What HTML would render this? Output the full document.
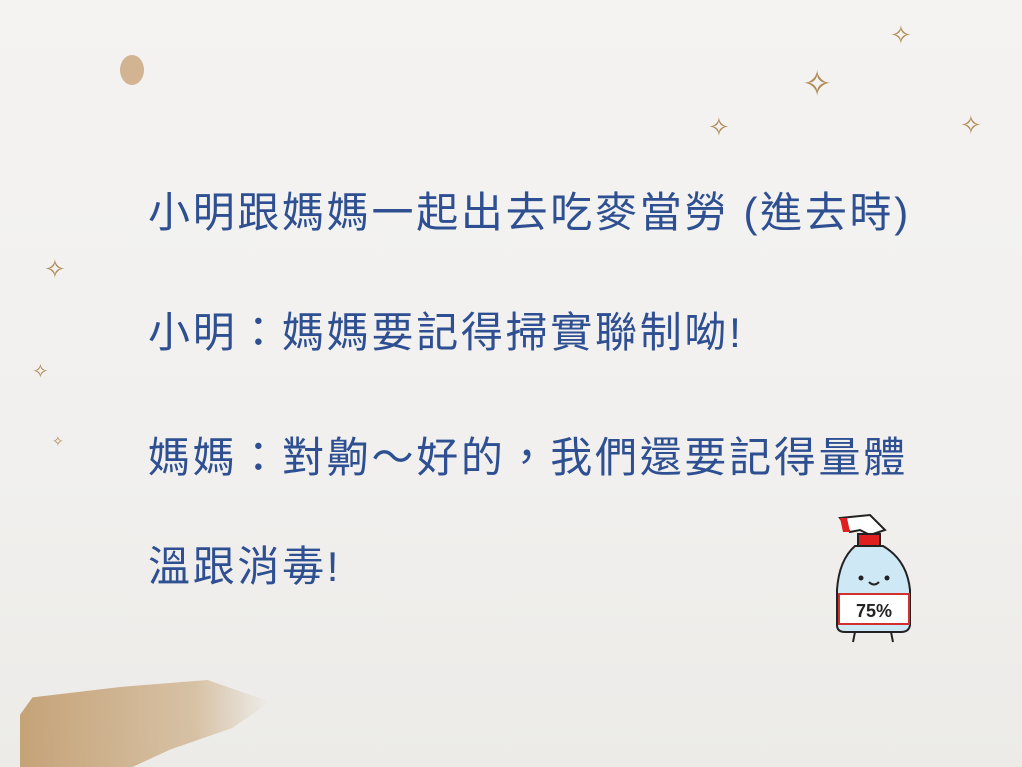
<!DOCTYPE html>
<html><head><meta charset="utf-8"><style>
html,body{margin:0;padding:0}
body{width:1022px;height:767px;position:relative;overflow:hidden;background:linear-gradient(180deg,#f4f3f1 0%,#f1f0ee 60%,#ecebe8 100%);font-family:"Liberation Sans","Noto Sans CJK TC",sans-serif}
.line{position:absolute;left:148px;color:#2e4f91;font-size:42px;letter-spacing:2.7px;white-space:nowrap;line-height:50px}
.star{position:absolute;color:#b08a55;font-size:26px;line-height:1}
</style></head><body>
<div class="line" style="top:188px">小明跟媽媽一起出去吃麥當勞 (進去時)</div>
<div class="line" style="top:308px">小明：媽媽要記得掃實聯制呦!</div>
<div class="line" style="top:433px">媽媽：對齁～好的，我們還要記得量體</div>
<div class="line" style="top:542px">溫跟消毒!</div>

<div style="position:absolute;left:120px;top:55px;width:24px;height:30px;border-radius:50%;background:#c9a27a;opacity:.8"></div>
<div class="star" style="left:802px;top:66px;font-size:36px">✧</div>
<div class="star" style="left:890px;top:22px">✧</div>
<div class="star" style="left:708px;top:114px">✧</div>
<div class="star" style="left:960px;top:112px">✧</div>
<div class="star" style="left:44px;top:256px">✧</div>
<div class="star" style="left:32px;top:362px;font-size:20px">✧</div>
<div class="star" style="left:52px;top:434px;font-size:14px">✧</div>

<div style="position:absolute;left:20px;top:680px;width:250px;height:87px;background:linear-gradient(90deg,rgba(190,150,100,.85),rgba(200,165,120,.6) 70%,rgba(210,180,140,0));clip-path:polygon(5% 20%,40% 8%,75% 0,100% 25%,85% 55%,60% 80%,45% 100%,0 100%,0 40%)"></div>

<svg style="position:absolute;left:825px;top:510px" width="100" height="140" viewBox="0 0 100 140">
<path d="M15 8 L45 5 L60 20 L45 25 L35 20 L25 22 Z" fill="#fff" stroke="#222" stroke-width="2"/>
<path d="M15 8 L22 8 L25 22 L18 22 Z" fill="#e02020"/>
<rect x="33" y="24" width="22" height="12" fill="#e02020" stroke="#222" stroke-width="2"/>
<path d="M30 36 L58 36 Q82 50 85 80 L85 115 Q84 122 76 122 L20 122 Q12 122 12 115 L12 80 Q14 50 30 36 Z" fill="#cfe8f5" stroke="#222" stroke-width="2"/>
<rect x="14" y="84" width="70" height="30" fill="#fff" stroke="#d03030" stroke-width="2"/>
<text x="49" y="107" text-anchor="middle" font-family="Liberation Sans" font-weight="bold" font-size="18" fill="#222">75%</text>
<circle cx="36" cy="68" r="2.5" fill="#222"/><circle cx="62" cy="68" r="2.5" fill="#222"/>
<path d="M44 72 Q49 77 54 72" stroke="#222" stroke-width="2" fill="none"/>
<path d="M30 122 L28 132 M66 122 L68 132" stroke="#222" stroke-width="2"/>
</svg>
</body></html>
